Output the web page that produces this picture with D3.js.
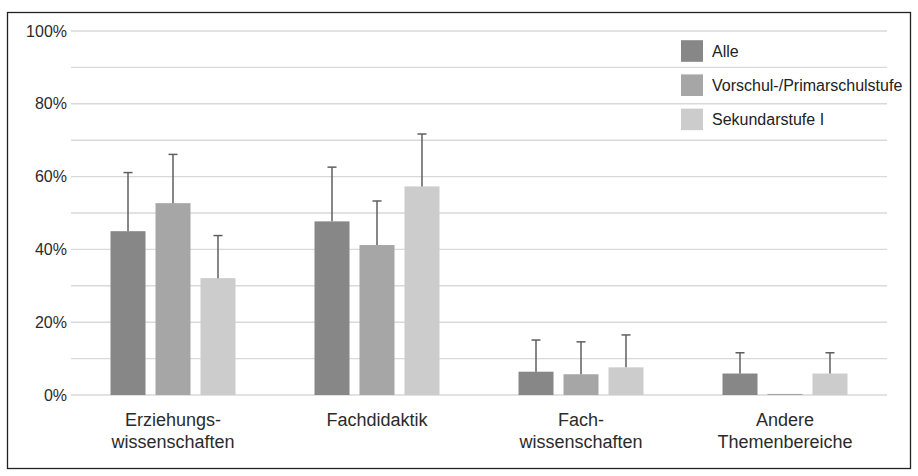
<!DOCTYPE html>
<html>
<head>
<meta charset="utf-8">
<script src="https://cdn.jsdelivr.net/npm/d3@7"></script>
<style>
  html, body { margin: 0; padding: 0; background: #fff; }
  svg { display: block; font-family: "Liberation Sans", Arial, sans-serif; }
</style>
</head>
<body>
<svg id="chart" width="918" height="476"></svg>
<script>
// Categories (label lines) and series
const categories = ["Erziehungswissenschaften", "Fachdidaktik", "Fachwissenschaften", "Andere Themenbereiche"];
const categoryLines = [["Erziehungs-", "wissenschaften"], ["Fachdidaktik"], ["Fach-", "wissenschaften"], ["Andere", "Themenbereiche"]];
const seriesNames = ["Alle", "Vorschul-/Primarschulstufe", "Sekundarstufe I"];
const seriesColors = ["#878787", "#a6a6a6", "#cccccc"];

// Shares in percent, per series, in category order
const valuesAlle = [45.0, 47.7, 6.4, 5.9];
const valuesPrimar = [52.7, 41.2, 5.7, 0.3];
const valuesSek = [32.1, 57.3, 7.6, 5.9];
// Upper end of the error bars, in percent
const errTopAlle = [61.1, 62.6, 15.1, 11.6];
const errTopPrimar = [66.1, 53.3, 14.6, null];
const errTopSek = [43.8, 71.7, 16.5, 11.6];

const yTicks = [0, 20, 40, 60, 80, 100];
const yGrid = [0, 10, 20, 30, 40, 50, 60, 70, 80, 90, 100];

const seriesValues = [valuesAlle, valuesPrimar, valuesSek];
const seriesErr = [errTopAlle, errTopPrimar, errTopSek];

const svg = d3.select("#chart");
const plot = { left: 71, right: 887, top: 31, bottom: 395 };

// Outer frame
svg.append("rect")
  .attr("x", 7.5).attr("y", 12.5)
  .attr("width", 903).attr("height", 456)
  .attr("fill", "#fff").attr("stroke", "#222").attr("stroke-width", 1.3);

const x0 = d3.scaleBand().domain(categories).range([plot.left, plot.right]).paddingInner(0).paddingOuter(0);
const x1 = d3.scaleBand().domain(seriesNames).range([0, x0.bandwidth()]).paddingInner(0.222).paddingOuter(0.878);
const y = d3.scaleLinear().domain([0, 100]).range([plot.bottom, plot.top]);

// Gridlines
svg.append("g").selectAll("line").data(yGrid).join("line")
  .attr("x1", plot.left).attr("x2", plot.right)
  .attr("y1", d => y(d)).attr("y2", d => y(d))
  .attr("stroke", "#d9d9d9").attr("stroke-width", 1.4);

// Y axis labels
const yAxis = d3.axisLeft(y).tickValues(yTicks).tickFormat(d => d + "%").tickSize(0).tickPadding(4);
const ya = svg.append("g").attr("transform", `translate(${plot.left},0)`).call(yAxis);
ya.select(".domain").remove();
ya.selectAll("text").attr("font-size", 16).attr("fill", "#2b2b2b")
  .attr("font-family", "'Liberation Sans', Arial, sans-serif");

// Bars
const groups = svg.append("g").selectAll("g").data(categories).join("g")
  .attr("transform", d => `translate(${x0(d)},0)`);

seriesNames.forEach((s, si) => {
  groups.append("rect")
    .attr("x", x1(s))
    .attr("width", x1.bandwidth())
    .attr("y", (d, ci) => y(seriesValues[si][ci]))
    .attr("height", (d, ci) => y(0) - y(seriesValues[si][ci]))
    .attr("fill", seriesColors[si]);
});

// Error bars (upper whisker with cap)
seriesNames.forEach((s, si) => {
  groups.each(function (d, ci) {
    const top = seriesErr[si][ci];
    if (top == null) return;
    const g = d3.select(this);
    const cx = x1(s) + x1.bandwidth() / 2;
    g.append("line")
      .attr("x1", cx).attr("x2", cx)
      .attr("y1", y(seriesValues[si][ci])).attr("y2", y(top))
      .attr("stroke", "#5f5f5f").attr("stroke-width", 1.5);
    g.append("line")
      .attr("x1", cx - 4.5).attr("x2", cx + 4.5)
      .attr("y1", y(top)).attr("y2", y(top))
      .attr("stroke", "#5f5f5f").attr("stroke-width", 1.5);
  });
});

// Category labels
groups.append("text")
  .attr("x", x0.bandwidth() / 2)
  .attr("text-anchor", "middle")
  .attr("font-size", 18).attr("fill", "#2b2b2b")
  .each(function (d, ci) {
    const t = d3.select(this);
    categoryLines[ci].forEach((line, li) => {
      t.append("tspan").attr("x", x0.bandwidth() / 2)
        .attr("y", 426 + li * 21.5).text(line);
    });
  });

// Legend
const legend = svg.append("g");
const legendStep = 34.2;
seriesNames.forEach((s, si) => {
  const ly = 51 + si * legendStep;
  legend.append("rect")
    .attr("x", 681).attr("y", ly - 10.8)
    .attr("width", 22).attr("height", 21.6)
    .attr("fill", seriesColors[si]);
  legend.append("text")
    .attr("x", 712).attr("y", ly + 5.8)
    .attr("font-size", 16).attr("fill", "#222")
    .text(s);
});
</script>
</body>
</html>
